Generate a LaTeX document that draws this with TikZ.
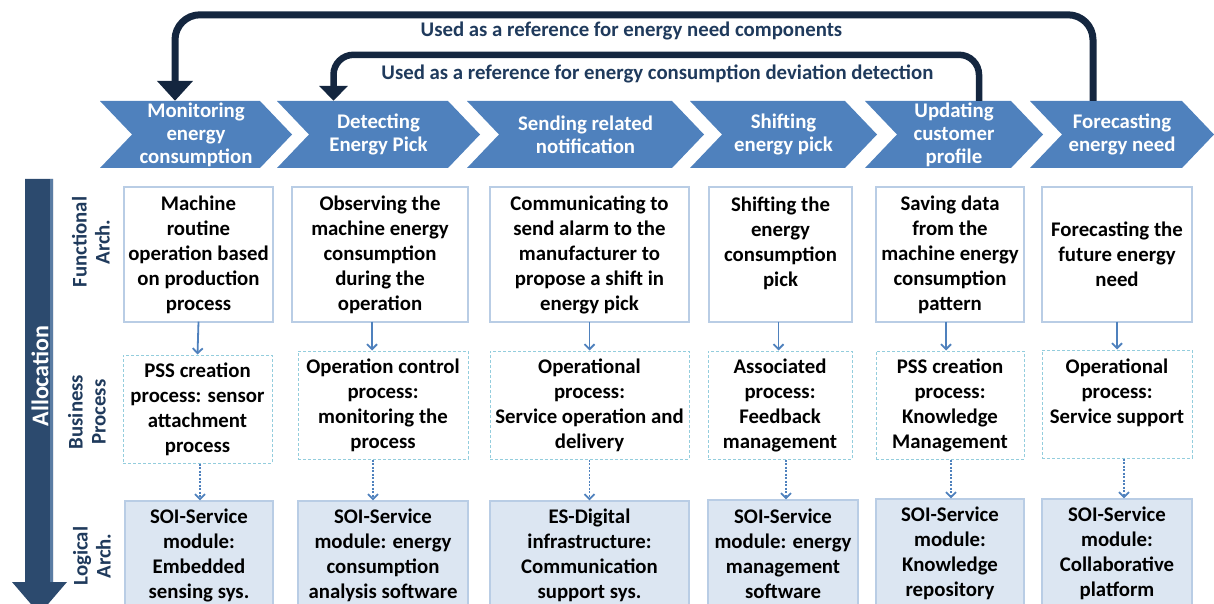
\documentclass[tikz,border=0pt]{standalone}
\usepackage{fontspec}
\setmainfont{Carlito}
\usetikzlibrary{arrows.meta,calc}
\definecolor{chev}{HTML}{4F81BD}
\definecolor{navy}{HTML}{14263F}
\definecolor{labtxt}{HTML}{1F3A5C}
\definecolor{allocc}{HTML}{2C4A6E}
\definecolor{allocl}{HTML}{5A7CA3}
\definecolor{fbord}{HTML}{B9CDE5}
\definecolor{bbord}{HTML}{93CDDD}
\definecolor{lfill}{HTML}{DCE6F2}
\definecolor{conn}{HTML}{4F81BD}
\newcommand{\mychevron}[2]{\fill[chev] (#1,101) -- (#2-32,101) -- (#2,134.5) -- (#2-32,168) -- (#1,168) -- (#1+32,134.5) -- cycle;}
\begin{document}
\begin{tikzpicture}[x=1pt,y=-1pt,
  every node/.style={font=\fontsize{20.8}{25}\selectfont\bfseries, inner sep=0pt, align=center},
  chevtxt/.style={text=white, minimum height=67pt, font=\fontsize{20.8}{23}\selectfont\bfseries},
  refarr/.style={draw=navy, line width=7pt, rounded corners=25pt},
  reftxt/.style={text=labtxt},
  rowlab/.style={text=labtxt, rotate=90, font=\fontsize{20.8}{23}\selectfont\bfseries},
  fbox/.style={draw=fbord, line width=1.2pt, fill=white, minimum height=135pt},
  bbox/.style={draw=bbord, line width=1pt, dash pattern=on 3pt off 2pt, minimum height=108pt},
  lbox/.style={draw=fbord, line width=1.2pt, fill=lfill, minimum height=108pt},
  solidarr/.style={draw=conn, line width=1.8pt, -{Straight Barb[length=5pt,width=10pt]}},
  dotarr/.style={draw=conn, line width=1.8pt, dash pattern=on 2pt off 1.5pt, -{Straight Barb[length=5pt,width=10pt]}}
]
\useasboundingbox (0,0) rectangle (1214,604);
\clip (0,0) rectangle (1214,604);

% chevrons
\mychevron{100}{292}
\mychevron{277}{480}
\mychevron{467}{704}
\mychevron{690}{877}
\mychevron{865}{1043}
\mychevron{1030}{1214}
\node[chevtxt] (ch1) at (196,134.5) {Monitoring\\energy\\consumption};
\node[chevtxt] (ch2) at (378.5,134.5) {Detecting\\Energy Pick};
\node[chevtxt] (ch3) at (585.5,134.5) {Sending related\\notification};
\node[chevtxt] (ch4) at (783.5,134.5) {Shifting\\energy pick};
\node[chevtxt] (ch5) at (954,134.5) {Updating\\customer\\profile};
\node[chevtxt] (ch6) at (1122,134.5) {Forecasting\\energy need};

% reference arrows
\draw[refarr, -{Triangle[width=35pt,length=20pt]}] ([xshift=-29pt]ch6.north) -- ++(0,-86) -| ([xshift=-21pt]ch1.north);
\draw[refarr, line width=6.5pt, rounded corners=20pt, -{Triangle[width=28pt,length=15pt]}] ([xshift=25pt]ch5.north) -- ++(0,-46) -| ([xshift=-45pt]ch2.north);
\node[reftxt] (t1) at (631.5,31) {Used as a reference for energy need components};
\node[reftxt] (t2) at (657.5,74) {Used as a reference for energy consumption deviation detection};

% allocation arrow
\fill[allocc] (25,179) -- (53,179) -- (53,582) -- (67,582) -- (39.5,614) -- (12,582) -- (25,582) -- cycle;
\fill[allocl] (50,179) rectangle (53,582);
\node[text=white, rotate=90, font=\fontsize{24}{28}\selectfont\bfseries] (alloc) at (40,376) {Allocation};

% row labels
\node[rowlab] (rl1) at (91,242) {Functional\\Arch.};
\node[rowlab] (rl2) at (87,412) {Business\\Process};
\node[rowlab] (rl3) at (92,556) {Logical\\Arch.};

% functional row
\node[fbox, minimum width=149pt] (f1) at (198.5,254.5) {Machine\\routine\\operation based\\on production\\process};
\node[fbox, minimum width=176pt] (f2) at (380,254.5) {Observing the\\machine energy\\consumption\\during the\\operation};
\node[fbox, minimum width=199pt] (f3) at (589.5,254.5) {Communicating to\\send alarm to the\\manufacturer to\\propose a shift in\\energy pick};
\node[fbox, minimum width=143pt] (f4) at (780.5,254.5) {Shifting the\\energy\\consumption\\pick\\\mbox{}};
\node[fbox, minimum width=148pt] (f5) at (950,254.5) {Saving data\\from the\\machine energy\\consumption\\pattern};
\node[fbox, minimum width=150pt] (f6) at (1117,254.5) {Forecasting the\\future energy\\need};

% business row
\node[bbox, minimum width=149pt] (b1) at (197.5,409) {PSS creation\\process: sensor\\attachment\\process};
\node[bbox, minimum width=170pt] (b2) at (383,405) {Operation control\\process:\\monitoring the\\process};
\node[bbox, minimum width=199pt] (b3) at (589.5,405) {Operational\\process:\\Service operation and\\delivery};
\node[bbox, minimum width=144pt] (b4) at (780,405) {Associated\\process:\\Feedback\\management};
\node[bbox, minimum width=148pt] (b5) at (950,405) {PSS creation\\process:\\Knowledge\\Management};
\node[bbox, minimum width=150pt] (b6) at (1117,404) {Operational\\process:\\Service support\\\mbox{}};

% logical row
\node[lbox, minimum width=148pt] (l1) at (199,555) {SOI-Service\\module:\\Embedded\\sensing sys.};
\node[lbox, minimum width=170pt] (l2) at (383,555) {SOI-Service\\module: energy\\consumption\\analysis software};
\node[lbox, minimum width=199pt] (l3) at (589.5,555) {ES-Digital\\infrastructure:\\Communication\\support sys.};
\node[lbox, minimum width=150pt] (l4) at (783,554) {SOI-Service\\module: energy\\management\\software};
\node[lbox, minimum width=148pt] (l5) at (950,553) {SOI-Service\\module:\\Knowledge\\repository};
\node[lbox, minimum width=150pt] (l6) at (1117,553) {SOI-Service\\module:\\Collaborative\\platform};

% connectors functional -> business
\draw[solidarr] ([yshift=1pt]f1.south) -- (b1.north);
\draw[solidarr] ([xshift=-8pt,yshift=1pt]f2.south) -- ([xshift=-8pt]f2.south |- b2.north);
\draw[solidarr] ([yshift=1pt]f3.south) -- (b3.north);
\draw[solidarr] ([xshift=-2pt,yshift=1pt]f4.south) -- ([xshift=-2pt]f4.south |- b4.north);
\draw[solidarr] ([xshift=-4pt,yshift=1pt]f5.south) -- ([xshift=-4pt]f5.south |- b5.north);
\draw[solidarr] ([yshift=1pt]f6.south) -- (b6.north);

% connectors business -> logical
\draw[dotarr] ([xshift=2.5pt]b1.south) -- ([xshift=2.5pt]b1.south |- l1.north);
\draw[dotarr] ([xshift=-10pt]b2.south) -- ([xshift=-10pt]b2.south |- l2.north);
\draw[dotarr] (b3.south) -- (b3.south |- l3.north);
\draw[dotarr] ([xshift=6pt]b4.south) -- ([xshift=6pt]b4.south |- l4.north);
\draw[dotarr] ([xshift=1pt]b5.south) -- ([xshift=1pt]b5.south |- l5.north);
\draw[dotarr] ([xshift=7pt]b6.south) -- ([xshift=7pt]b6.south |- l6.north);
\end{tikzpicture}
\end{document}
